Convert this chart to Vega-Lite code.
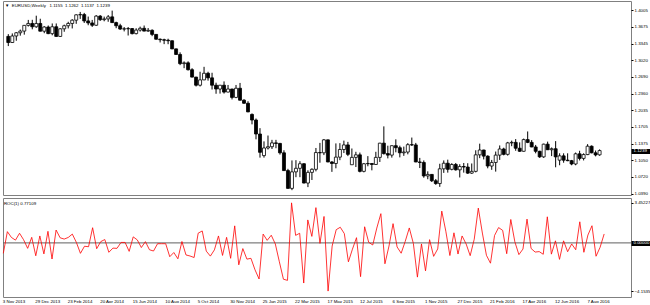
{
 "$schema": "https://vega.github.io/schema/vega-lite/v6.json",
 "background": "white",
 "padding": {"left": 1, "top": 0, "right": 0, "bottom": 0},
 "spacing": 1,
 "data": {"values": [
{"d":"2013-11-03","o":1.3486,"h":1.3530,"l":1.3295,"c":1.3365,"r":-0.90},
{"d":"2013-11-10","o":1.3365,"h":1.3544,"l":1.3358,"c":1.3494,"r":0.97},
{"d":"2013-11-17","o":1.3494,"h":1.3570,"l":1.3400,"c":1.3557,"r":0.47},
{"d":"2013-11-24","o":1.3557,"h":1.3620,"l":1.3500,"c":1.3590,"r":0.24},
{"d":"2013-12-01","o":1.3590,"h":1.3710,"l":1.3520,"c":1.3703,"r":0.83},
{"d":"2013-12-08","o":1.3703,"h":1.3810,"l":1.3680,"c":1.3740,"r":0.27},
{"d":"2013-12-15","o":1.3740,"h":1.3812,"l":1.3625,"c":1.3675,"r":-0.47},
{"d":"2013-12-22","o":1.3675,"h":1.3893,"l":1.3655,"c":1.3740,"r":0.48},
{"d":"2013-12-29","o":1.3740,"h":1.3833,"l":1.3585,"c":1.3588,"r":-1.11},
{"d":"2014-01-05","o":1.3588,"h":1.3687,"l":1.3548,"c":1.3670,"r":0.60},
{"d":"2014-01-12","o":1.3670,"h":1.3700,"l":1.3530,"c":1.3540,"r":-0.95},
{"d":"2014-01-19","o":1.3540,"h":1.3740,"l":1.3507,"c":1.3675,"r":1.00},
{"d":"2014-01-26","o":1.3675,"h":1.3740,"l":1.3478,"c":1.3485,"r":-1.39},
{"d":"2014-02-02","o":1.3485,"h":1.3645,"l":1.3475,"c":1.3635,"r":1.11},
{"d":"2014-02-09","o":1.3635,"h":1.3717,"l":1.3577,"c":1.3695,"r":0.44},
{"d":"2014-02-16","o":1.3695,"h":1.3773,"l":1.3642,"c":1.3740,"r":0.33},
{"d":"2014-02-23","o":1.3740,"h":1.3824,"l":1.3642,"c":1.3805,"r":0.47},
{"d":"2014-03-02","o":1.3805,"h":1.3920,"l":1.3733,"c":1.3910,"r":0.76},
{"d":"2014-03-09","o":1.3910,"h":1.3967,"l":1.3830,"c":1.3915,"r":0.04},
{"d":"2014-03-16","o":1.3915,"h":1.3948,"l":1.3750,"c":1.3790,"r":-0.90},
{"d":"2014-03-23","o":1.3790,"h":1.3876,"l":1.3705,"c":1.3750,"r":-0.29},
{"d":"2014-03-30","o":1.3750,"h":1.3810,"l":1.3672,"c":1.3705,"r":-0.33},
{"d":"2014-04-06","o":1.3705,"h":1.3905,"l":1.3693,"c":1.3885,"r":1.31},
{"d":"2014-04-13","o":1.3885,"h":1.3906,"l":1.3790,"c":1.3815,"r":-0.50},
{"d":"2014-04-20","o":1.3815,"h":1.3875,"l":1.3783,"c":1.3830,"r":0.11},
{"d":"2014-04-27","o":1.3830,"h":1.3906,"l":1.3773,"c":1.3870,"r":0.29},
{"d":"2014-05-04","o":1.3870,"h":1.3993,"l":1.3750,"c":1.3757,"r":-0.81},
{"d":"2014-05-11","o":1.3757,"h":1.3775,"l":1.3647,"c":1.3695,"r":-0.45},
{"d":"2014-05-18","o":1.3695,"h":1.3734,"l":1.3615,"c":1.3630,"r":-0.47},
{"d":"2014-05-25","o":1.3630,"h":1.3670,"l":1.3584,"c":1.3635,"r":0.04},
{"d":"2014-06-01","o":1.3635,"h":1.3670,"l":1.3503,"c":1.3640,"r":0.04},
{"d":"2014-06-08","o":1.3640,"h":1.3650,"l":1.3525,"c":1.3540,"r":-0.73},
{"d":"2014-06-15","o":1.3540,"h":1.3646,"l":1.3525,"c":1.3610,"r":0.52},
{"d":"2014-06-22","o":1.3610,"h":1.3678,"l":1.3580,"c":1.3645,"r":0.26},
{"d":"2014-06-29","o":1.3645,"h":1.3700,"l":1.3587,"c":1.3590,"r":-0.40},
{"d":"2014-07-06","o":1.3590,"h":1.3650,"l":1.3575,"c":1.3605,"r":0.11},
{"d":"2014-07-13","o":1.3605,"h":1.3625,"l":1.3490,"c":1.3525,"r":-0.59},
{"d":"2014-07-20","o":1.3525,"h":1.3530,"l":1.3422,"c":1.3430,"r":-0.70},
{"d":"2014-07-27","o":1.3430,"h":1.3445,"l":1.3366,"c":1.3420,"r":-0.07},
{"d":"2014-08-03","o":1.3420,"h":1.3440,"l":1.3333,"c":1.3410,"r":-0.07},
{"d":"2014-08-10","o":1.3410,"h":1.3440,"l":1.3332,"c":1.3400,"r":-0.07},
{"d":"2014-08-17","o":1.3400,"h":1.3405,"l":1.3235,"c":1.3240,"r":-1.19},
{"d":"2014-08-24","o":1.3240,"h":1.3245,"l":1.3125,"c":1.3130,"r":-0.83},
{"d":"2014-08-31","o":1.3130,"h":1.3172,"l":1.2920,"c":1.2950,"r":-1.37},
{"d":"2014-09-07","o":1.2950,"h":1.2994,"l":1.2860,"c":1.2965,"r":0.12},
{"d":"2014-09-14","o":1.2965,"h":1.2995,"l":1.2814,"c":1.2830,"r":-1.04},
{"d":"2014-09-21","o":1.2830,"h":1.2860,"l":1.2680,"c":1.2685,"r":-1.13},
{"d":"2014-09-28","o":1.2685,"h":1.2690,"l":1.2500,"c":1.2525,"r":-1.26},
{"d":"2014-10-05","o":1.2525,"h":1.2790,"l":1.2500,"c":1.2630,"r":0.84},
{"d":"2014-10-12","o":1.2630,"h":1.2887,"l":1.2625,"c":1.2760,"r":1.03},
{"d":"2014-10-19","o":1.2760,"h":1.2790,"l":1.2615,"c":1.2670,"r":-0.71},
{"d":"2014-10-26","o":1.2670,"h":1.2770,"l":1.2440,"c":1.2525,"r":-1.14},
{"d":"2014-11-02","o":1.2525,"h":1.2575,"l":1.2357,"c":1.2450,"r":-0.60},
{"d":"2014-11-09","o":1.2450,"h":1.2530,"l":1.2360,"c":1.2525,"r":0.60},
{"d":"2014-11-16","o":1.2525,"h":1.2600,"l":1.2360,"c":1.2390,"r":-1.08},
{"d":"2014-11-23","o":1.2390,"h":1.2530,"l":1.2385,"c":1.2450,"r":0.48},
{"d":"2014-11-30","o":1.2450,"h":1.2455,"l":1.2245,"c":1.2285,"r":-1.33},
{"d":"2014-12-07","o":1.2285,"h":1.2530,"l":1.2270,"c":1.2465,"r":1.47},
{"d":"2014-12-14","o":1.2465,"h":1.2570,"l":1.2225,"c":1.2230,"r":-1.89},
{"d":"2014-12-21","o":1.2230,"h":1.2250,"l":1.2160,"c":1.2170,"r":-0.49},
{"d":"2014-12-28","o":1.2170,"h":1.2210,"l":1.1995,"c":1.2000,"r":-1.40},
{"d":"2015-01-04","o":1.1950,"h":1.1970,"l":1.1755,"c":1.1840,"r":-1.33},
{"d":"2015-01-11","o":1.1840,"h":1.1870,"l":1.1460,"c":1.1565,"r":-2.32},
{"d":"2015-01-18","o":1.1565,"h":1.1680,"l":1.1100,"c":1.1205,"r":-3.11},
{"d":"2015-01-25","o":1.1140,"h":1.1420,"l":1.1100,"c":1.1290,"r":0.76},
{"d":"2015-02-01","o":1.1290,"h":1.1535,"l":1.1260,"c":1.1315,"r":0.22},
{"d":"2015-02-08","o":1.1315,"h":1.1450,"l":1.1270,"c":1.1390,"r":0.66},
{"d":"2015-02-15","o":1.1390,"h":1.1450,"l":1.1285,"c":1.1380,"r":-0.09},
{"d":"2015-02-22","o":1.1380,"h":1.1390,"l":1.1160,"c":1.1195,"r":-1.63},
{"d":"2015-03-01","o":1.1195,"h":1.1245,"l":1.0840,"c":1.0845,"r":-3.13},
{"d":"2015-03-08","o":1.0845,"h":1.0880,"l":1.0490,"c":1.0495,"r":-3.23},
{"d":"2015-03-15","o":1.0495,"h":1.1045,"l":1.0460,"c":1.0820,"r":3.45227},
{"d":"2015-03-22","o":1.0820,"h":1.1050,"l":1.0715,"c":1.0890,"r":0.65},
{"d":"2015-03-29","o":1.0890,"h":1.1030,"l":1.0715,"c":1.0980,"r":0.83},
{"d":"2015-04-05","o":1.0980,"h":1.0990,"l":1.0595,"c":1.0600,"r":-3.46},
{"d":"2015-04-12","o":1.0600,"h":1.0850,"l":1.0520,"c":1.0810,"r":1.98},
{"d":"2015-04-19","o":1.0810,"h":1.0890,"l":1.0660,"c":1.0870,"r":0.56},
{"d":"2015-04-26","o":1.0870,"h":1.1290,"l":1.0830,"c":1.1200,"r":3.04},
{"d":"2015-05-03","o":1.1200,"h":1.1390,"l":1.1000,"c":1.1195,"r":-0.04},
{"d":"2015-05-10","o":1.1195,"h":1.1467,"l":1.1150,"c":1.1450,"r":2.28},
{"d":"2015-05-17","o":1.1450,"h":1.1455,"l":1.1010,"c":1.1015,"r":-4.1535},
{"d":"2015-05-24","o":1.1015,"h":1.1030,"l":1.0820,"c":1.0985,"r":-0.27},
{"d":"2015-05-31","o":1.0985,"h":1.1380,"l":1.0890,"c":1.1110,"r":1.14},
{"d":"2015-06-07","o":1.1110,"h":1.1385,"l":1.1050,"c":1.1260,"r":1.35},
{"d":"2015-06-14","o":1.1260,"h":1.1435,"l":1.1190,"c":1.1350,"r":0.80},
{"d":"2015-06-21","o":1.1350,"h":1.1410,"l":1.1130,"c":1.1165,"r":-1.63},
{"d":"2015-06-28","o":1.0960,"h":1.1280,"l":1.0955,"c":1.1105,"r":-0.54},
{"d":"2015-07-05","o":1.1105,"h":1.1215,"l":1.0915,"c":1.1155,"r":0.45},
{"d":"2015-07-12","o":1.1155,"h":1.1200,"l":1.0810,"c":1.0830,"r":-2.91},
{"d":"2015-07-19","o":1.0830,"h":1.0995,"l":1.0810,"c":1.0980,"r":1.39},
{"d":"2015-07-26","o":1.0980,"h":1.1130,"l":1.0930,"c":1.0985,"r":0.05},
{"d":"2015-08-02","o":1.0985,"h":1.0990,"l":1.0850,"c":1.0965,"r":-0.18},
{"d":"2015-08-09","o":1.0965,"h":1.1215,"l":1.0960,"c":1.1105,"r":1.28},
{"d":"2015-08-16","o":1.1105,"h":1.1390,"l":1.1015,"c":1.1385,"r":2.52},
{"d":"2015-08-23","o":1.1385,"h":1.1715,"l":1.1160,"c":1.1180,"r":-1.80},
{"d":"2015-08-30","o":1.1180,"h":1.1335,"l":1.1085,"c":1.1150,"r":-0.27},
{"d":"2015-09-06","o":1.1150,"h":1.1340,"l":1.1100,"c":1.1335,"r":1.66},
{"d":"2015-09-13","o":1.1335,"h":1.1460,"l":1.1205,"c":1.1295,"r":-0.35},
{"d":"2015-09-20","o":1.1295,"h":1.1335,"l":1.1105,"c":1.1195,"r":-0.89},
{"d":"2015-09-27","o":1.1195,"h":1.1317,"l":1.1135,"c":1.1210,"r":0.13},
{"d":"2015-10-04","o":1.1210,"h":1.1385,"l":1.1165,"c":1.1355,"r":1.29},
{"d":"2015-10-11","o":1.1355,"h":1.1495,"l":1.1330,"c":1.1350,"r":-0.04},
{"d":"2015-10-18","o":1.1350,"h":1.1390,"l":1.1010,"c":1.1015,"r":-2.95},
{"d":"2015-10-25","o":1.1015,"h":1.1095,"l":1.0895,"c":1.1005,"r":-0.09},
{"d":"2015-11-01","o":1.1005,"h":1.1045,"l":1.0705,"c":1.0740,"r":-2.41},
{"d":"2015-11-08","o":1.0740,"h":1.0830,"l":1.0675,"c":1.0770,"r":0.28},
{"d":"2015-11-15","o":1.0770,"h":1.0775,"l":1.0620,"c":1.0645,"r":-1.16},
{"d":"2015-11-22","o":1.0645,"h":1.0680,"l":1.0565,"c":1.0590,"r":-0.52},
{"d":"2015-11-29","o":1.0590,"h":1.0980,"l":1.0525,"c":1.0880,"r":2.74},
{"d":"2015-12-06","o":1.0880,"h":1.1045,"l":1.0800,"c":1.0990,"r":1.01},
{"d":"2015-12-13","o":1.0990,"h":1.1060,"l":1.0805,"c":1.0870,"r":-1.09},
{"d":"2015-12-20","o":1.0870,"h":1.0990,"l":1.0850,"c":1.0965,"r":0.87},
{"d":"2015-12-27","o":1.0965,"h":1.0995,"l":1.0845,"c":1.0860,"r":-0.96},
{"d":"2016-01-03","o":1.0860,"h":1.0970,"l":1.0710,"c":1.0925,"r":0.60},
{"d":"2016-01-10","o":1.0925,"h":1.0995,"l":1.0805,"c":1.0915,"r":-0.09},
{"d":"2016-01-17","o":1.0915,"h":1.0990,"l":1.0780,"c":1.0795,"r":-1.10},
{"d":"2016-01-24","o":1.0795,"h":1.0985,"l":1.0780,"c":1.0830,"r":0.32},
{"d":"2016-01-31","o":1.0830,"h":1.1245,"l":1.0810,"c":1.1155,"r":3.00},
{"d":"2016-02-07","o":1.1155,"h":1.1375,"l":1.1090,"c":1.1250,"r":0.85},
{"d":"2016-02-14","o":1.1250,"h":1.1255,"l":1.1065,"c":1.1130,"r":-1.07},
{"d":"2016-02-21","o":1.1130,"h":1.1145,"l":1.0890,"c":1.0935,"r":-1.75},
{"d":"2016-02-28","o":1.0935,"h":1.1055,"l":1.0860,"c":1.1005,"r":0.64},
{"d":"2016-03-06","o":1.1005,"h":1.1220,"l":1.0825,"c":1.1150,"r":1.32},
{"d":"2016-03-13","o":1.1150,"h":1.1340,"l":1.1055,"c":1.1270,"r":1.08},
{"d":"2016-03-20","o":1.1270,"h":1.1295,"l":1.1145,"c":1.1165,"r":-0.93},
{"d":"2016-03-27","o":1.1165,"h":1.1410,"l":1.1140,"c":1.1390,"r":2.02},
{"d":"2016-04-03","o":1.1390,"h":1.1435,"l":1.1325,"c":1.1400,"r":0.09},
{"d":"2016-04-10","o":1.1400,"h":1.1465,"l":1.1235,"c":1.1285,"r":-1.01},
{"d":"2016-04-17","o":1.1285,"h":1.1400,"l":1.1215,"c":1.1225,"r":-0.53},
{"d":"2016-04-24","o":1.1225,"h":1.1475,"l":1.1220,"c":1.1455,"r":2.05},
{"d":"2016-05-01","o":1.1455,"h":1.1615,"l":1.1385,"c":1.1400,"r":-0.48},
{"d":"2016-05-08","o":1.1400,"h":1.1445,"l":1.1305,"c":1.1310,"r":-0.79},
{"d":"2016-05-15","o":1.1310,"h":1.1350,"l":1.1185,"c":1.1225,"r":-0.75},
{"d":"2016-05-22","o":1.1225,"h":1.1235,"l":1.1095,"c":1.1115,"r":-0.98},
{"d":"2016-05-29","o":1.1115,"h":1.1375,"l":1.1095,"c":1.1365,"r":2.25},
{"d":"2016-06-05","o":1.1365,"h":1.1415,"l":1.1250,"c":1.1255,"r":-0.97},
{"d":"2016-06-12","o":1.1255,"h":1.1300,"l":1.1130,"c":1.1275,"r":0.18},
{"d":"2016-06-19","o":1.1275,"h":1.1425,"l":1.0910,"c":1.1115,"r":-1.42},
{"d":"2016-06-26","o":1.1050,"h":1.1185,"l":1.0950,"c":1.1135,"r":0.18},
{"d":"2016-07-03","o":1.1135,"h":1.1185,"l":1.1000,"c":1.1050,"r":-0.76},
{"d":"2016-07-10","o":1.1050,"h":1.1185,"l":1.1030,"c":1.1040,"r":-0.09},
{"d":"2016-07-17","o":1.1040,"h":1.1055,"l":1.0950,"c":1.0975,"r":-0.59},
{"d":"2016-07-24","o":1.0975,"h":1.1200,"l":1.0950,"c":1.1175,"r":1.82},
{"d":"2016-07-31","o":1.1175,"h":1.1235,"l":1.1045,"c":1.1085,"r":-0.81},
{"d":"2016-08-07","o":1.1085,"h":1.1185,"l":1.1045,"c":1.1160,"r":0.68},
{"d":"2016-08-14","o":1.1160,"h":1.1365,"l":1.1150,"c":1.1325,"r":1.48},
{"d":"2016-08-21","o":1.1325,"h":1.1340,"l":1.1185,"c":1.1195,"r":-1.15},
{"d":"2016-08-28","o":1.1195,"h":1.1240,"l":1.1125,"c":1.1153,"r":-0.38},
{"d":"2016-09-04","o":1.1155,"h":1.1262,"l":1.1137,"c":1.1239,"r":0.77109}
 ]},
 "config": {
  "font": "Liberation Sans",
  "view": {"stroke": "#808080", "strokeWidth": 1},
  "axis": {"grid": false, "labelFont": "Liberation Sans", "labelFontSize": 4.4, "labelColor": "#000000", "tickColor": "#000000", "domain": false, "labelOverlap": false, "labelFlush": false, "title": null},
  "text": {"font": "Liberation Sans", "fontSize": 4.4, "color": "#000000"}
 },
 "vconcat": [
  {
   "width": 628,
   "height": 194,
   "resolve": {"axis": {"x": "independent", "y": "independent"}},
   "layer": [
    {
     "mark": {"type": "rule", "color": "#000000", "strokeWidth": 1},
     "encoding": {
      "x": {"field": "d", "type": "temporal", "scale": {"type": "utc", "nice": false, "domain": [{"year": 2013, "month": 11, "date": 2, "hours": 11, "minutes": 35, "utc": true}, {"year": 2016, "month": 10, "date": 20, "hours": 6, "minutes": 30, "utc": true}]}, "axis": null},
      "y": {"field": "l", "type": "quantitative", "scale": {"domain": [1.03648, 1.41821], "nice": false, "zero": false}, "axis": {"orient": "right", "values": [1.039, 1.072, 1.105, 1.1375, 1.1705, 1.2035, 1.236, 1.269, 1.302, 1.3345, 1.3675, 1.4005], "format": ".4f", "tickSize": 2, "labelPadding": 1}},
      "y2": {"field": "h"}
     }
    },
    {
     "mark": {"type": "bar", "width": 3, "stroke": "#000000", "strokeWidth": 0.8},
     "encoding": {
      "x": {"field": "d", "type": "temporal", "axis": null},
      "y": {"field": "o", "type": "quantitative", "axis": {"orient": "right", "values": [1.1239], "format": ".4f", "tickSize": 20, "tickWidth": 5, "tickColor": "#000000", "labelPadding": -18, "labelColor": "#ffffff"}},
      "y2": {"field": "c"},
      "fill": {"condition": {"test": "datum.c > datum.o", "value": "#ffffff"}, "value": "#000000"}
     }
    },
    {
     "data": {"values": [{"label": "▼\u00a0\u00a0EURUSD,Weekly\u00a0\u00a0\u00a01.1155\u00a0\u00a01.1262\u00a0\u00a01.1137\u00a0\u00a01.1239"}]},
     "mark": {"type": "text", "align": "left", "baseline": "middle"},
     "encoding": {
      "x": {"datum": {"year": 2013, "month": 10, "date": 28, "hours": 5, "utc": true}, "type": "temporal", "axis": null},
      "y": {"datum": 1.4084, "type": "quantitative", "axis": null},
      "text": {"field": "label"}
     }
    }
   ]
  },
  {
   "width": 628,
   "height": 99,
   "resolve": {"axis": {"x": "independent", "y": "independent"}},
   "layer": [
    {
     "data": {"values": [{"level": 0}]},
     "mark": {"type": "rule", "color": "#606060", "strokeWidth": 1},
     "encoding": {
      "y": {"field": "level", "type": "quantitative", "scale": {"domain": [-4.664, 3.871], "nice": false, "zero": false}, "axis": {"orient": "right", "values": [0], "format": ".5f", "tickSize": 20, "tickWidth": 5, "tickColor": "#000000", "labelPadding": -18, "labelColor": "#ffffff"}}
     }
    },
    {
     "mark": {"type": "line", "color": "#ff0000", "strokeWidth": 0.8},
     "encoding": {
      "x": {"field": "d", "type": "temporal", "scale": {"type": "utc", "nice": false, "domain": [{"year": 2013, "month": 11, "date": 2, "hours": 11, "minutes": 35, "utc": true}, {"year": 2016, "month": 10, "date": 20, "hours": 6, "minutes": 30, "utc": true}]}, "axis": {"orient": "bottom", "values": [{"year": 2013, "month": 11, "date": 3, "utc": true}, {"year": 2013, "month": 12, "date": 29, "utc": true}, {"year": 2014, "month": 2, "date": 23, "utc": true}, {"year": 2014, "month": 4, "date": 20, "utc": true}, {"year": 2014, "month": 6, "date": 15, "utc": true}, {"year": 2014, "month": 8, "date": 10, "utc": true}, {"year": 2014, "month": 10, "date": 5, "utc": true}, {"year": 2014, "month": 11, "date": 30, "utc": true}, {"year": 2015, "month": 1, "date": 25, "utc": true}, {"year": 2015, "month": 3, "date": 22, "utc": true}, {"year": 2015, "month": 5, "date": 17, "utc": true}, {"year": 2015, "month": 7, "date": 12, "utc": true}, {"year": 2015, "month": 9, "date": 6, "utc": true}, {"year": 2015, "month": 11, "date": 1, "utc": true}, {"year": 2015, "month": 12, "date": 27, "utc": true}, {"year": 2016, "month": 2, "date": 21, "utc": true}, {"year": 2016, "month": 4, "date": 17, "utc": true}, {"year": 2016, "month": 6, "date": 12, "utc": true}, {"year": 2016, "month": 8, "date": 7, "utc": true}], "format": "%-d %b %Y", "labelAlign": "left", "labelOffset": -1, "ticks": false, "labelPadding": 2, "labelBaseline": "top"}},
      "y": {"field": "r", "type": "quantitative", "axis": {"orient": "right", "values": [3.45227, -4.1535], "format": ".5f", "tickSize": 2, "labelPadding": 1}}
     }
    },
    {
     "data": {"values": [{"label": "ROC(1)\u00a00.77109"}]},
     "mark": {"type": "text", "align": "left", "baseline": "middle"},
     "encoding": {
      "x": {"datum": {"year": 2013, "month": 11, "date": 4, "hours": 0, "utc": true}, "type": "temporal", "axis": null},
      "y": {"datum": 3.38, "type": "quantitative", "axis": null},
      "text": {"field": "label"}
     }
    }
   ]
  }
 ]
}
